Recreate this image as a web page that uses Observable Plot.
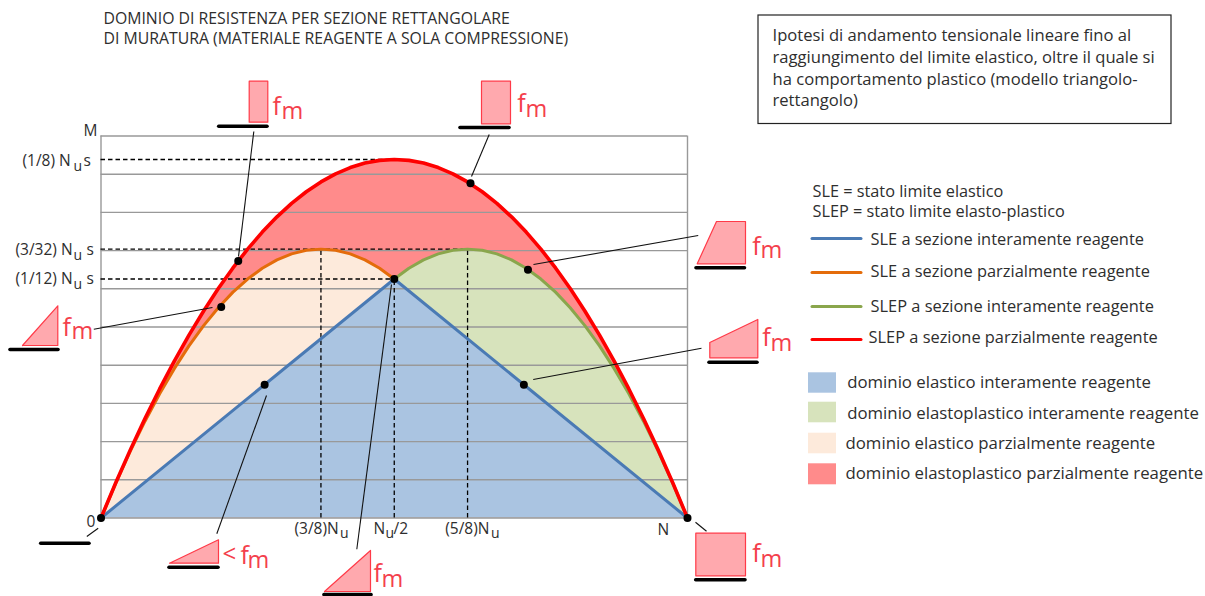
<!DOCTYPE html>
<html>
<head>
<meta charset="utf-8">
<script src="https://cdn.jsdelivr.net/npm/d3@7"></script>
<script src="https://cdn.jsdelivr.net/npm/@observablehq/plot@0.6"></script>
<style>
html,body{margin:0;padding:0;background:#fff;overflow:hidden}
svg{display:block}
</style>
</head>
<body>
<div id="chart"></div>
<script>
// N/Nu sampled along the horizontal axis
const nValues = [0,.025,.05,.075,.1,.125,.15,.175,.2,.225,.25,.275,.3,.325,.35,.375,.4,.425,.45,.475,.5,.525,.55,.575,.6,.625,.65,.675,.7,.725,.75,.775,.8,.825,.85,.875,.9,.925,.95,.975,1];
// M/(Nu s): SLEP a sezione parzialmente reagente
const slepParz = [0,.01219,.02375,.03469,.045,.05469,.06375,.07219,.08,.08719,.09375,.09969,.105,.10969,.11375,.11719,.12,.12219,.12375,.12469,.125,.12469,.12375,.12219,.12,.11719,.11375,.10969,.105,.09969,.09375,.08719,.08,.07219,.06375,.05469,.045,.03469,.02375,.01219,0];
// SLE a sezione parzialmente reagente (left arch)
const nLeft = [0,.025,.05,.075,.1,.125,.15,.175,.2,.225,.25,.275,.3,.325,.35,.375,.4,.425,.45,.475,.5];
const sleParz = [0,.01208,.02333,.03375,.04333,.05208,.06,.06708,.07333,.07875,.08333,.08708,.09,.09208,.09333,.09375,.09333,.09208,.09,.08708,.08333];
// SLEP a sezione interamente reagente (right arch)
const nRight = [.5,.525,.55,.575,.6,.625,.65,.675,.7,.725,.75,.775,.8,.825,.85,.875,.9,.925,.95,.975,1];
const slepInt = [.08333,.08708,.09,.09208,.09333,.09375,.09333,.09208,.09,.08708,.08333,.07875,.07333,.06708,.06,.05208,.04333,.03375,.02333,.01208,0];
// SLE a sezione interamente reagente
const nTri = [0,.5,1];
const sleInt = [0,.08333,0];
// horizontal grid
const gridValues = [0,.01332,.02664,.03996,.05328,.0666,.07992,.09324,.10656,.11988,.1332];
// marked points on the curves
const dotN = [0,.205,.234,.5,.279,.63,.728,.721,1];
const dotM = [0,.0736,.0896,.0833,.0465,.1167,.0866,.0465,0];
// notable levels
const levelM = [1/8,3/32,1/12];
const levelEnd = [1/2,5/8,1/2];
const verticalN = [3/8,1/2,5/8];
const verticalTop = [3/32,1/12,3/32];

const titleLines = ["DOMINIO DI RESISTENZA PER SEZIONE RETTANGOLARE","DI MURATURA (MATERIALE REAGENTE A SOLA COMPRESSIONE)"];
const noteLines = ["Ipotesi di andamento tensionale lineare fino al","raggiungimento del limite elastico, oltre il quale si","ha comportamento plastico (modello triangolo-","rettangolo)"];
const lineLabels = ["SLE a sezione interamente reagente","SLE a sezione parzialmente reagente","SLEP a sezione interamente reagente","SLEP a sezione parzialmente reagente"];
const areaLabels = ["dominio elastico interamente reagente","dominio elastoplastico interamente reagente","dominio elastico parzialmente reagente","dominio elastoplastico parzialmente reagente"];
const defs = ["SLE = stato limite elastico","SLEP = stato limite elasto-plastico"];

// colours
const cBlue="#4a7ab4", cOrange="#e46c0a", cGreen="#8aa64c", cRed="#fe0000";
const aBlue="#aac4e1", aGreen="#d7e3bc", aPeach="#fdeadb", aRed="#ff8b8b";
const pinkFill="#ffa9ae", pinkStroke="#ff3a48", fmColor="#f4404c", ink="#2e2e2e";
const FONT="'Open Sans'";

// annotation placement: page pixels turned into data units of the two scales
const X0=100.5, X1=687, Y0=517.5, YT=159;
const ax = p => (p-X0)/(X1-X0);
const ay = p => (Y0-p)/(Y0-YT)*0.125;
const P = (x,y) => ({x:ax(x),y:ay(y)});
const T = (x,y,text) => ({x:ax(x),y:ay(y),text});
const S = (ns,ms) => ns.map((n,i)=>({n,m:ms[i]}));

const shapes = [
  [[248.7,80.7],[267.3,80.7],[267.3,121.7],[248.7,121.7]],
  [[481,80.7],[510,80.7],[510,123.3],[481,123.3]],
  [[716,221],[745,221],[745,263.3],[696.7,263.3]],
  [[709.3,342],[757.3,319],[757.3,357.3],[709.3,357.3]],
  [[695.3,532.7],[745,532.7],[745,575.3],[695.3,575.3]],
  [[22,345],[57.3,305.3],[57.3,345]],
  [[169,562.7],[218,539.3],[218,562.7]],
  [[324,591],[370,550],[370,591]]
].flatMap((pts,id)=>[...pts,pts[0]].map(([x,y])=>({...P(x,y),id})));

const bars = [[218.7,267,125.7],[460,509,127],[696,744.5,267.3],[709,757,361.7],[695.7,745,579.3],[40.7,89,542.7],[10,58,349],[169,218,566.7],[324,371,594]]
  .map(([a,b,y])=>({x1:ax(a),x2:ax(b),y:ay(y)}));

const leaders = [[253.3,131,238,256],[488.7,134,471,176],[697.7,235,533,264],[701,347.7,532.7,379],[93.3,328.7,212,307],[266,395,216.3,533.3],[356.3,548.7,391,284],[97.7,527.7,86.3,536],[695,521.7,706,530.7]]
  .map(([a,b,c,d])=>({x1:ax(a),y1:ay(b),x2:ax(c),y2:ay(d)}));

const fF=[[272,114],[516.7,111],[751.7,254],[761.7,345],[751.7,561.7],[62,335],[240,563],[373,581]];
const fM=[[281,119],[525,116.7],[760,257.3],[770,351],[760,566.7],[71,339],[247,567.7],[381,587]];

const swatchRows=[[372.3,392.7,aBlue],[401.7,422.3,aGreen],[432.7,453.3,aPeach],[463.3,484.3,aRed]]
  .map(([a,b,c])=>({x1:ax(808),x2:ax(836),y1:ay(a),y2:ay(b),c}));
const legendLines=[[238,cBlue],[272,cOrange],[306,cGreen],[339,cRed]]
  .map(([y,c])=>({x1:ax(812),x2:ax(861),y:ay(y),c}));

const titleText=titleLines.map((t,i)=>T(103,[18,38][i],t));
const noteText=noteLines.map((t,i)=>T(772,[35,57,79,100][i],t));
const defText=defs.map((t,i)=>T(812,[191,211][i],t));
const lineText=lineLabels.map((t,i)=>T([870,870,870,868][i],[239,271,306.5,337][i],t));
const areaText=areaLabels.map((t,i)=>T([846.7,846.7,845,845][i],[382,413,443,473][i],t));
const small=[
  T(83,131,"M"),T(86,521.7,"0"),T(657,530,"N"),
  T(22,161,"(1/8) N"),T(15,250,"(3/32) N"),T(15,279,"(1/12) N"),
  T(294,529,"(3/8)N"),T(373,529,"N"),T(444.7,529,"(5/8)N"),
  T(83,161,"s"),T(86,250,"s"),T(86,279,"s"),T(393,529,"/2")
];
const subs=[T(73,166,"u"),T(73,255,"u"),T(73,284,"u"),T(339.5,533,"u"),T(385,533,"u"),T(490.5,533,"u")];

const area=(ns,ms,fill)=>Plot.areaY(S(ns,ms),{x:"n",y:"m",fill,curve:"linear"});
const curve=(ns,ms,stroke,sw)=>Plot.line(S(ns,ms),{x:"n",y:"m",stroke,strokeWidth:sw,curve:"linear"});
const txt=(d,size,fill)=>Plot.text(d,{x:"x",y:"y",text:"text",textAnchor:"start",lineAnchor:"middle",fontFamily:FONT,fontSize:size,fill});

const fig=Plot.plot({
  width:1205,height:596,margin:0,
  style:{background:"#fff"},
  x:{domain:[0,1],range:[X0,X1],axis:null},
  y:{domain:[0,.125],range:[Y0,YT],axis:null},
  marks:[
    Plot.rect([0],{x1:ax(758),x2:ax(1171),y1:ay(15),y2:ay(123.5),fill:"#fff",stroke:"#222",strokeWidth:1.2}),
    area(nValues,slepParz,aRed),
    area(nLeft,sleParz,aPeach),
    area(nRight,slepInt,aGreen),
    area(nTri,sleInt,aBlue),
    Plot.ruleY(gridValues,{x1:0,x2:1,stroke:"#999",strokeWidth:1.4}),
    Plot.ruleX([0,1],{y1:0,y2:.1332,stroke:"#999",strokeWidth:1.4}),
    Plot.ruleY(levelM.map((m,i)=>({m,e:levelEnd[i]})),{y:"m",x1:0,x2:"e",stroke:"#000",strokeWidth:1.3,strokeDasharray:"4.5,3"}),
    Plot.ruleX(verticalN.map((n,i)=>({n,t:verticalTop[i]})),{x:"n",y1:0,y2:"t",stroke:"#000",strokeWidth:1.3,strokeDasharray:"4.5,3"}),
    curve(nTri,sleInt,cBlue,3),
    curve(nLeft,sleParz,cOrange,3),
    curve(nRight,slepInt,cGreen,3),
    curve(nValues,slepParz,cRed,3.6),
    Plot.link(leaders,{x1:"x1",y1:"y1",x2:"x2",y2:"y2",stroke:"#111",strokeWidth:1.1}),
    Plot.dot(S(dotN,dotM),{x:"n",y:"m",r:4,fill:"#000"}),
    Plot.line(shapes,{x:"x",y:"y",z:"id",fill:pinkFill,stroke:pinkStroke,strokeWidth:1.2,curve:"linear"}),
    Plot.ruleY(bars,{y:"y",x1:"x1",x2:"x2",stroke:"#000",strokeWidth:3.6,strokeLinecap:"round"}),
    Plot.rect(swatchRows,{x1:"x1",x2:"x2",y1:"y1",y2:"y2",fill:"c"}),
    Plot.ruleY(legendLines,{y:"y",x1:"x1",x2:"x2",stroke:"c",strokeWidth:3,strokeLinecap:"round"}),
    txt(titleText,15.8,ink),
    txt(noteText,16.6,ink),
    txt(defText,16.3,ink),
    txt(lineText,16.4,ink),
    txt(areaText,16.8,ink),
    txt(small,15.5,ink),
    txt(subs,14,ink),
    txt(fF.map(([x,y])=>T(x,y-8,"f")),25,fmColor),
    txt(fM.map(([x,y])=>T(x,y-7.7,"m")),23.5,fmColor),
    txt([T(222,554,"<")],24,fmColor)
  ]
});
document.getElementById("chart").appendChild(fig);
</script>
</body>
</html>
